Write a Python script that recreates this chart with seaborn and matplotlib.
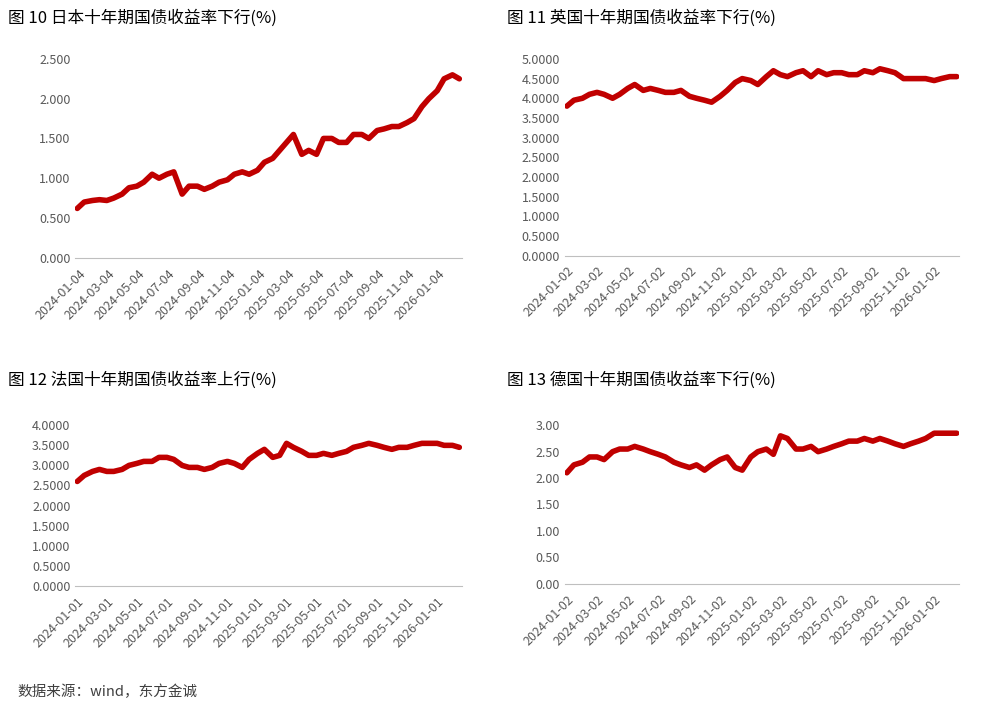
import matplotlib
matplotlib.use("Agg")
import matplotlib.pyplot as plt
import matplotlib.dates as mdates
import seaborn as sns
import pandas as pd
from matplotlib.ticker import FormatStrFormatter, MultipleLocator

sns.set_style("white")
plt.rcParams['font.family'] = ['Noto Sans CJK SC', 'DejaVu Sans']

jp = [0.62,0.70,0.72,0.73,0.72,0.75,0.80,0.88,0.90,0.95,1.05,1.00,1.05,1.08,0.80,0.90,0.90,0.86,0.90,0.95,
      0.98,1.05,1.08,1.05,1.10,1.20,1.25,1.35,1.45,1.55,1.30,1.35,1.30,1.50,1.50,1.45,1.45,1.55,1.55,1.50,
      1.60,1.62,1.65,1.65,1.70,1.75,1.90,2.00,2.10,2.25,2.30,2.25]
uk = [3.8,3.95,4.0,4.1,4.15,4.1,4.0,4.1,4.25,4.35,4.2,4.25,4.2,4.15,4.15,4.2,4.05,4.0,3.95,3.9,
      4.05,4.2,4.4,4.5,4.45,4.35,4.55,4.7,4.6,4.55,4.65,4.7,4.55,4.7,4.6,4.65,4.65,4.6,4.6,4.7,
      4.65,4.75,4.7,4.65,4.5,4.5,4.5,4.5,4.45,4.5,4.55,4.55]
fr = [2.6,2.75,2.85,2.9,2.85,2.85,2.9,3.0,3.05,3.1,3.1,3.2,3.2,3.15,3.0,2.95,2.95,2.9,2.95,3.05,
      3.1,3.05,2.95,3.15,3.3,3.4,3.2,3.25,3.55,3.45,3.35,3.25,3.25,3.3,3.25,3.3,3.35,3.45,3.5,3.55,
      3.5,3.45,3.4,3.45,3.45,3.5,3.55,3.55,3.55,3.5,3.5,3.45]
de = [2.1,2.25,2.3,2.4,2.4,2.35,2.5,2.55,2.55,2.6,2.55,2.5,2.45,2.4,2.3,2.25,2.2,2.25,2.15,2.25,
      2.35,2.4,2.2,2.15,2.4,2.5,2.55,2.45,2.8,2.75,2.55,2.55,2.6,2.5,2.55,2.6,2.65,2.7,2.7,2.75,
      2.7,2.75,2.7,2.65,2.6,2.65,2.7,2.75,2.85,2.85,2.85,2.85]

titles = ["图 10 日本十年期国债收益率下行(%)", "图 11 英国十年期国债收益率下行(%)",
          "图 12 法国十年期国债收益率上行(%)", "图 13 德国十年期国债收益率下行(%)"]
tick_day = ["2024-01-04", "2024-01-02", "2024-01-01", "2024-01-02"]
ymax = [2.5, 5.0, 4.0, 3.0]
fmts = ["%.3f", "%.4f", "%.4f", "%.2f"]
series = [jp, uk, fr, de]

def semi_monthly(n):
    d = []
    for m in pd.date_range("2024-01-01", periods=(n + 1) // 2, freq="MS"):
        d += [m, m + pd.Timedelta(days=14)]
    return d[:n]

fig = plt.figure(figsize=(9.91, 7.10), dpi=100)
boxes = [(0.076, 0.637, 0.390, 0.28), (0.570, 0.640, 0.398, 0.277),
         (0.076, 0.175, 0.390, 0.226), (0.570, 0.178, 0.398, 0.223)]
title_pos = [(0.008, 0.975), (0.512, 0.975), (0.008, 0.465), (0.512, 0.465)]
for i in range(4):
    ax = fig.add_axes(boxes[i])
    df = pd.DataFrame({"date": semi_monthly(len(series[i])), "v": series[i]})
    sns.lineplot(data=df, x="date", y="v", ax=ax, color="#C00000", linewidth=4)
    ax.set_xlabel(""); ax.set_ylabel("")
    ax.set_ylim(0, ymax[i]); ax.yaxis.set_major_locator(MultipleLocator(0.5))
    ax.yaxis.set_major_formatter(FormatStrFormatter(fmts[i]))
    day = int(tick_day[i][-2:])
    ax.xaxis.set_major_locator(mdates.MonthLocator(bymonth=[1,3,5,7,9,11], bymonthday=day))
    ax.xaxis.set_major_formatter(mdates.DateFormatter("%Y-%m-%d"))
    ax.set_xlim(pd.Timestamp("2023-12-28"), pd.Timestamp("2026-02-20"))
    for s in ["top", "right", "left"]:
        ax.spines[s].set_visible(False)
    ax.spines["bottom"].set_color("#bfbfbf")
    ax.tick_params(axis="both", colors="#595959", labelsize=9, length=0)
    ax.tick_params(axis="x", length=3, color="#bfbfbf")
    plt.setp(ax.get_xticklabels(), rotation=45, ha="right", rotation_mode="anchor")
    fig.text(title_pos[i][0], title_pos[i][1], titles[i], fontsize=12, va="center", color="black")
fig.text(0.018, 0.02, "数据来源：wind，东方金诚", fontsize=10.5, color="#404040")
fig.savefig("out.png", dpi=100)
